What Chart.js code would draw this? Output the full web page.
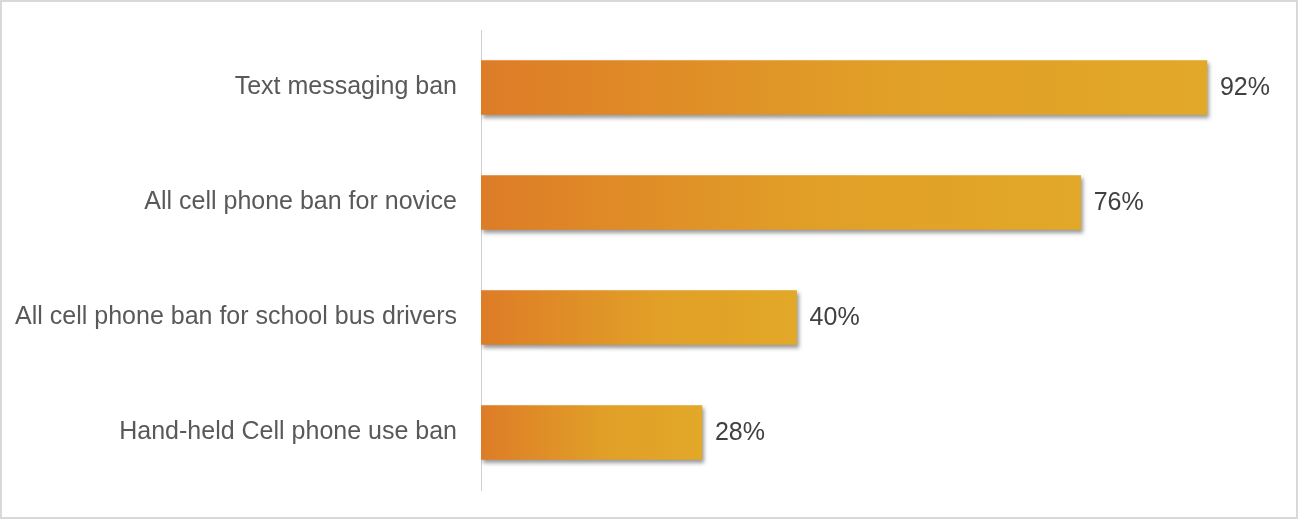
<!DOCTYPE html>
<html>
<head>
<meta charset="utf-8">
<script src="https://cdn.jsdelivr.net/npm/chart.js@4"></script>
<style>
  html,body{margin:0;padding:0;background:#fff;}
  #wrap{position:relative;width:1298px;height:519px;box-sizing:border-box;border:2px solid #d9d9d9;background:#fff;}
  #wrap canvas{display:block;}
</style>
</head>
<body>
<div id="wrap"><canvas id="chart" width="1294" height="515"></canvas></div>
<script>
'use strict';
const categories=['Text messaging ban','All cell phone ban for novice','All cell phone ban for school bus drivers','Hand-held Cell phone use ban'];
const shares=[92,76,40,28];
const axisMax=100;
const FONT='"Liberation Sans", Arial, sans-serif';

// each bar gets its own left-to-right gradient
const barFill=(ctx)=>{
  const chart=ctx.chart;
  const x=chart.scales.x;
  if(!x||!chart.chartArea)return '#E19327';
  const x0=x.getPixelForValue(0);
  const x1=x.getPixelForValue(shares[ctx.dataIndex]);
  if(!isFinite(x0)||!isFinite(x1)||x1<=x0)return '#E19327';
  const g=chart.ctx.createLinearGradient(x0,0,x1,0);
  g.addColorStop(0,'#DE7C27');
  g.addColorStop(0.55,'#E19F27');
  g.addColorStop(1,'#E2A828');
  return g;
};

const barShadow={
  id:'barShadow',
  beforeDatasetDraw(chart){
    const c=chart.ctx;
    c.save();
    c.shadowColor='rgba(0,0,0,0.4)';
    c.shadowBlur=4;
    c.shadowOffsetX=2;
    c.shadowOffsetY=3;
  },
  afterDatasetDraw(chart){chart.ctx.restore();}
};

const valueLabels={
  id:'valueLabels',
  afterDatasetsDraw(chart){
    const c=chart.ctx;
    const meta=chart.getDatasetMeta(0);
    c.save();
    c.font='25px '+FONT;
    c.fillStyle='#404040';
    c.textAlign='left';
    c.textBaseline='middle';
    meta.data.forEach((bar,i)=>{
      c.fillText(shares[i]+'%',bar.x+13,bar.y+1);
    });
    c.restore();
  }
};

new Chart(document.getElementById('chart'),{
  type:'bar',
  data:{
    labels:categories,
    datasets:[{data:shares,backgroundColor:barFill,borderWidth:0,barThickness:54}]
  },
  options:{
    indexAxis:'y',
    responsive:false,
    animation:false,
    layout:{padding:{top:28,bottom:27,right:26,left:0}},
    plugins:{legend:{display:false},tooltip:{enabled:false}},
    scales:{
      x:{display:false,min:0,max:axisMax},
      y:{
        grid:{display:false,drawTicks:false},
        border:{display:true,color:'#d0d0d0',width:1},
        ticks:{color:'#595959',padding:24,font:{family:FONT,size:25}},
        afterFit(scale){scale.width=479;scale.paddingTop=0;scale.paddingBottom=0;}
      }
    }
  },
  plugins:[barShadow,valueLabels]
});
</script>
</body>
</html>
